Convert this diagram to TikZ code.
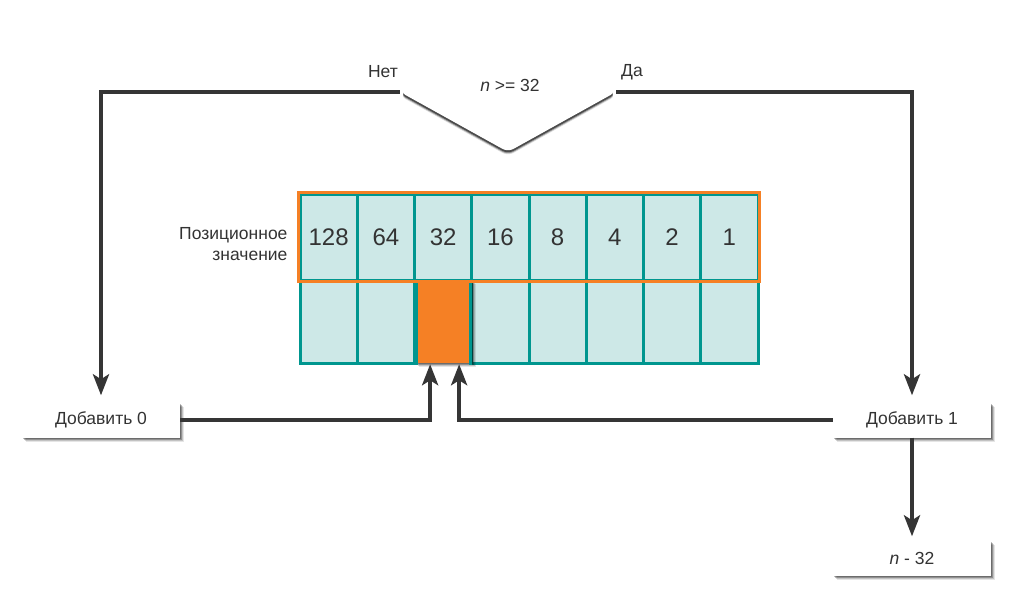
\documentclass[tikz,border=0pt]{standalone}
\usepackage{fontspec}
\setmainfont{Liberation Sans}
\usetikzlibrary{shadows,arrows.meta,shapes.geometric,calc}
\definecolor{lineg}{HTML}{353535}
\definecolor{cellbg}{HTML}{CDE8E7}
\definecolor{teal1}{HTML}{00968F}
\definecolor{orng}{HTML}{F58025}
\definecolor{txt}{HTML}{333333}
\begin{document}
\begin{tikzpicture}[x=1pt,y=-1pt,
  conn/.style={draw=lineg,line width=4pt,-{Stealth[length=21pt,width=16pt,inset=5pt]}},
  softsh/.style={
    drop shadow={shadow xshift=4pt,shadow yshift=-4pt,opacity=0.10,fill=black},
    drop shadow={shadow xshift=3pt,shadow yshift=-3pt,opacity=0.15,fill=black},
    drop shadow={shadow xshift=2pt,shadow yshift=-2pt,opacity=0.25,fill=black},
    drop shadow={shadow xshift=1pt,shadow yshift=-1pt,opacity=0.25,fill=black}},
  shbox/.style={fill=white,minimum width=158pt,minimum height=35pt,inner sep=0pt,
    font=\fontsize{17.5pt}{21pt}\selectfont,text=txt,softsh},
  cell/.style={fill=cellbg,draw=teal1,line width=3pt,minimum width=57.25pt,inner sep=0pt,
    font=\fontsize{24pt}{28pt}\selectfont,text=txt},
  lbl/.style={font=\fontsize{17.5pt}{21pt}\selectfont,text=txt}]
\useasboundingbox (0,0) rectangle (1033,599);
\fill[white] (0,0) rectangle (1033,599);
% diamond
\node[diamond,minimum width=216pt,minimum height=120pt,inner sep=0pt,fill=white,
  rounded corners=6pt,
  drop shadow={shadow xshift=0pt,shadow yshift=-4pt,opacity=0.15,fill=black},
  drop shadow={shadow xshift=0pt,shadow yshift=-3pt,opacity=0.3,fill=black},
  drop shadow={shadow xshift=0pt,shadow yshift=-2pt,opacity=0.5,fill=black},
  lbl] (d) at (508,92) {};
\node[lbl] (dt) at (510,85) {\textit{n} >= 32};
\node[lbl] (no) at (383,72) {Нет};
\node[lbl] (yes) at (632,72) {Да};
% table top row
\foreach \i/\v in {1/128,2/64,3/32,4/16,5/8,6/4,7/2,8/1}{
  \node[cell,minimum height=86pt] (c\i) at ({300+(\i-0.5)*57.25},237) {\v};
}
\foreach \i in {1,2,4,5,6,7,8}{
  \node[cell,minimum height=83pt] (b\i) at ({300+(\i-0.5)*57.25},321.5) {};
}
\node[fill=orng,minimum width=57.25pt,minimum height=83pt,inner sep=0pt,softsh]
  (b3) at ({300+2.5*57.25},321.5) {};
\draw[teal1,line width=3pt] (b2.north east) -- (b2.south east);
\draw[teal1,line width=3pt] (b4.south west) -- (b4.north west);
\draw[orng,line width=3pt] (c1.north west) rectangle (c8.south east);
\node[lbl,align=right,anchor=east] (pv) at (291,244) {Позиционное\\значение};
% boxes
\node[shbox] (a0) at (101,420) {Добавить 0};
\node[shbox] (a1) at (912,420) {Добавить 1};
\node[shbox] (m) at (912,558) {\textit{n} - 32};
% connectors
\draw[conn,shorten >=7pt] (d.west) -| (a0.north);
\draw[conn,shorten >=7pt] (d.east) -| (a1.north);
\draw[conn,shorten >=4pt] (a1.south) -- (m.north);
\coordinate (t0) at ($(b3.south)+(-13,1)$);
\coordinate (t1) at ($(b3.south)+(16,1)$);
\draw[conn] (a0.east) -| (t0);
\draw[conn] (a1.west) -| (t1);
\end{tikzpicture}
\end{document}
